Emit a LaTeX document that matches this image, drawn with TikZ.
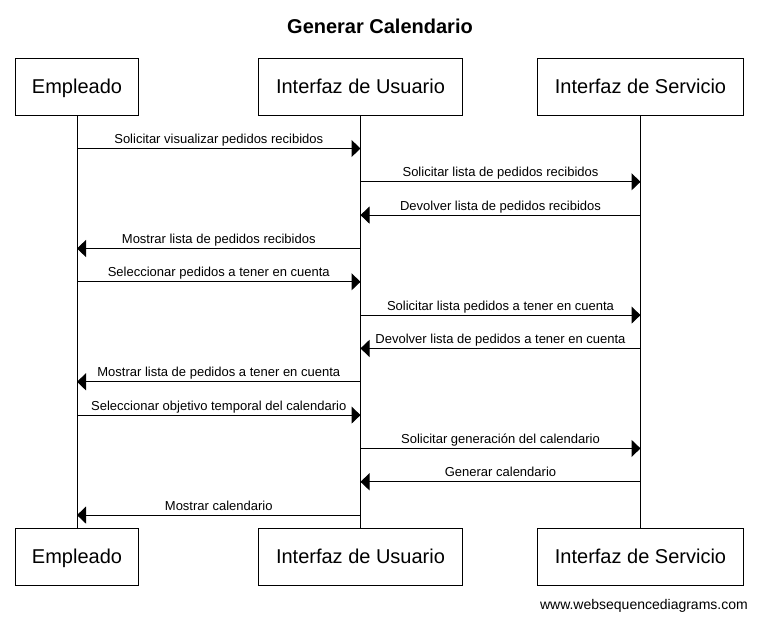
\documentclass[tikz,border=0pt]{standalone}
\usepackage{fontspec}
\setmainfont{Liberation Sans}
\usetikzlibrary{arrows.meta}
\begin{document}
\begin{tikzpicture}[x=1pt,y=-1pt,
  actor/.style={draw,line width=1pt,inner sep=0pt,minimum height=57pt,text height=14.3pt,text depth=0pt,font=\fontsize{20}{24}\selectfont},
  life/.style={line width=1pt},
  msg/.style={line width=1pt,-{Triangle[length=9pt,width=17pt]}},
  lbl/.style={anchor=base,yshift=5pt,inner sep=0pt,font=\fontsize{13}{15}\selectfont}
]
\useasboundingbox (0,0) rectangle (758,619);
\fill[white] (0,0) rectangle (758,619);
\node[anchor=base,font=\bfseries\fontsize{20}{24}\selectfont] (title) at (380,33.3) {Generar Calendario};
% top actors
\node[actor,minimum width=123pt] (E) at (77,86.5) {Empleado};
\node[actor,minimum width=204.5pt] (U) at (360.5,86.5) {Interfaz de Usuario};
\node[actor,minimum width=205.5pt] (S) at (640.5,86.5) {Interfaz de Servicio};
% bottom actors
\node[actor,minimum width=123pt] (E2) at (77,556.5) {Empleado};
\node[actor,minimum width=204.5pt] (U2) at (360.5,556.5) {Interfaz de Usuario};
\node[actor,minimum width=205.5pt] (S2) at (640.5,556.5) {Interfaz de Servicio};
% lifelines
\draw[life] (E.south) -- (E2.north);
\draw[life] (U.south) -- (U2.north);
\draw[life] (S.south) -- (S2.north);
% messages
\draw[msg] (E.south |- 0,148.5) -- node[lbl]{Solicitar visualizar pedidos recibidos} (U.south |- 0,148.5);
\draw[msg] (U.south |- 0,181.8) -- node[lbl]{Solicitar lista de pedidos recibidos} (S.south |- 0,181.8);
\draw[msg] (S.south |- 0,215.1) -- node[lbl]{Devolver lista de pedidos recibidos} (U.south |- 0,215.1);
\draw[msg] (U.south |- 0,248.5) -- node[lbl]{Mostrar lista de pedidos recibidos} (E.south |- 0,248.5);
\draw[msg] (E.south |- 0,281.8) -- node[lbl]{Seleccionar pedidos a tener en cuenta} (U.south |- 0,281.8);
\draw[msg] (U.south |- 0,315.1) -- node[lbl]{Solicitar lista pedidos a tener en cuenta} (S.south |- 0,315.1);
\draw[msg] (S.south |- 0,348.4) -- node[lbl]{Devolver lista de pedidos a tener en cuenta} (U.south |- 0,348.4);
\draw[msg] (U.south |- 0,381.8) -- node[lbl]{Mostrar lista de pedidos a tener en cuenta} (E.south |- 0,381.8);
\draw[msg] (E.south |- 0,415.1) -- node[lbl]{Seleccionar objetivo temporal del calendario} (U.south |- 0,415.1);
\draw[msg] (U.south |- 0,448.4) -- node[lbl]{Solicitar generación del calendario} (S.south |- 0,448.4);
\draw[msg] (S.south |- 0,481.8) -- node[lbl]{Generar calendario} (U.south |- 0,481.8);
\draw[msg] (U.south |- 0,515.1) -- node[lbl]{Mostrar calendario} (E.south |- 0,515.1);
\node[anchor=base east,inner sep=0pt,font=\fontsize{14}{16}\selectfont] (wm) at (748,609) {www.websequencediagrams.com};
\end{tikzpicture}
\end{document}
